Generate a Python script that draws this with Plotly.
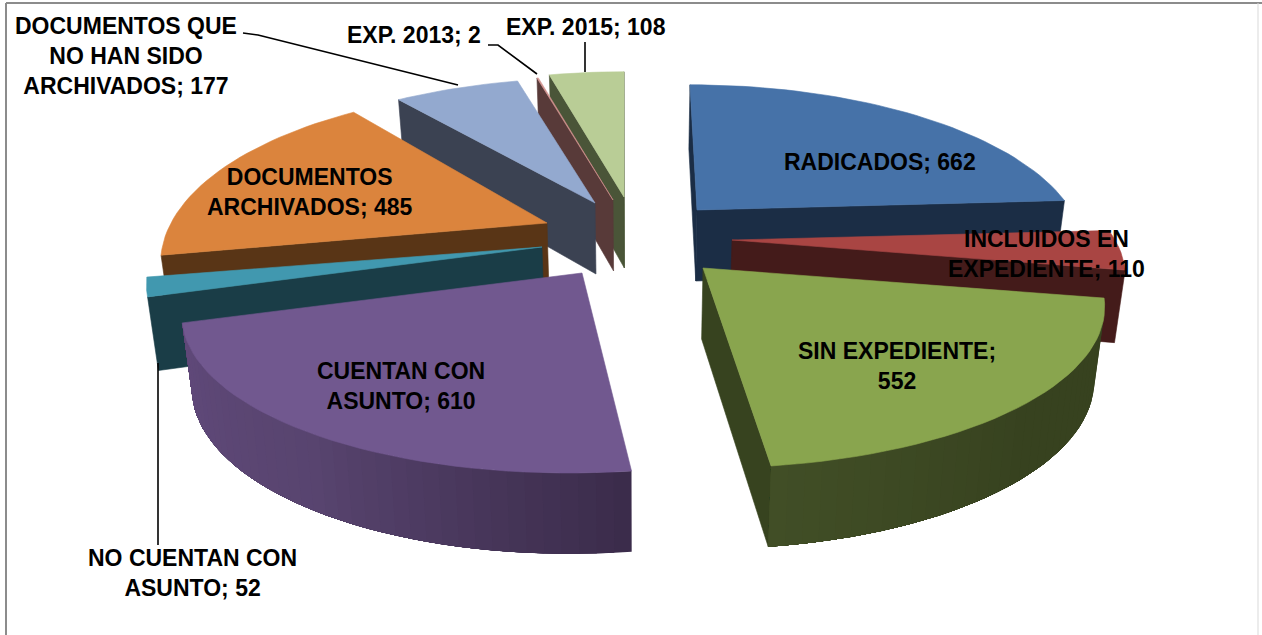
import math
import plotly.graph_objects as go

# ---- data ----
categories = ["RADICADOS", "INCLUIDOS EN<br>EXPEDIENTE", "SIN EXPEDIENTE", "CUENTAN CON<br>ASUNTO",
              "NO CUENTAN CON<br>ASUNTO", "DOCUMENTOS<br>ARCHIVADOS", "DOCUMENTOS QUE<br>NO HAN SIDO<br>ARCHIVADOS",
              "EXP. 2013", "EXP. 2015"]
values = [662, 110, 552, 610, 52, 485, 177, 2, 108]
label_joins = ["; ", "; ", ";<br>", "; ", "; ", "; ", "; ", "; ", "; "]

# ---- styling / placement ----
top_colors = ["#4672A8", "#A94543", "#89A54E", "#71588F", "#4198AF", "#DB843D", "#93A9CF", "#D1928F", "#B9CD96"]
face_colors = ["#1B2D45", "#441B1A", "#37431F", "#3A2B4A", "#1A3D47", "#593516", "#3B4252", "#583A39", "#4A5538"]
rim_start = ["#1B2D45", "#441B1A", "#37421F", "#3B2C4B", "#1A3D47", "#593516", "#3B4252", "#583A39", "#4A5538"]
rim_mid = ["#1B2D45", "#441B1A", "#37421F", "#58446F", "#1A3D47", "#593516", "#3B4252", "#583A39", "#4A5538"]
rim_end = ["#1B2D45", "#441B1A", "#414E26", "#60497A", "#1A3D47", "#593516", "#3B4252", "#583A39", "#4A5538"]
apex_x = [697, 732, 703, 582, 542, 547, 595, 613, 624]
apex_y = [210, 240, 268, 273, 247, 223, 203, 200, 197]
radius_x = [374, 383, 390, 387, 385, 376, 382, 375, 375]
radius_y = [154, 154, 154, 154, 154, 165, 154, 154, 154]
shear = [0.056, 0.0, 0.025, -0.0665, 0.0, 0.0, 0.0, 0.0, 0.0]
draw_order = [8, 7, 6, 5, 4, 3, 0, 1, 2]
label_x = [880, 1046, 897, 401, 192, 310, 126, 414, 586]
label_y = [162, 254, 366, 386, 573, 192, 56, 35, 27]
PERSP, DEPTH, BOTTOM_PULL, VANISH_X = 0.23, 71, 0.022, 640
leaders = [([243, 258, 458], [33, 35, 85]), ([488, 498, 537], [45, 45, 74]),
           ([585, 585], [42, 72]), ([158, 158], [545, 363])]


def hex2rgb(c):
    return tuple(int(c[i:i + 2], 16) for i in (1, 3, 5))


def blend(a, b, t):
    ra, rb = hex2rgb(a), hex2rgb(b)
    return "#%02x%02x%02x" % tuple(round(x + (y - x) * t) for x, y in zip(ra, rb))


def project(i, theta):
    """Slice angle -> top point and bottom point on the tilted disc."""
    u, v = math.sin(theta), math.cos(theta)
    s = 1 / (1 + PERSP * v)
    y = apex_y[i] - radius_y[i] * v * s
    x = apex_x[i] + radius_x[i] * u * s + shear[i] * (y - apex_y[i])
    return (x, y), bottom(x, y, s)


def bottom(x, y, s):
    return (x + (VANISH_X - x) * BOTTOM_PULL, y + DEPTH * s ** 0.5)


def area(poly):
    return sum(poly[k][0] * poly[(k + 1) % len(poly)][1] - poly[(k + 1) % len(poly)][0] * poly[k][1]
               for k in range(len(poly)))


def fill(fig, poly, color, edge=0.6):
    fig.add_trace(go.Scatter(x=[p[0] for p in poly] + [poly[0][0]], y=[p[1] for p in poly] + [poly[0][1]],
                             mode="lines", fill="toself", fillcolor=color,
                             line=dict(color=color, width=edge), hoverinfo="skip", showlegend=False))


total = sum(values)
starts, running = [], 0
for val in values:
    starts.append(running / total * 2 * math.pi)
    running += val

fig = go.Figure()
for i in draw_order:
    t0 = starts[i]
    t1 = t0 + values[i] / total * 2 * math.pi
    n = max(2, int(math.degrees(t1 - t0) / 2))
    thetas = [t0 + (t1 - t0) * k / n for k in range(n + 1)]
    tops, bots = zip(*[project(i, t) for t in thetas])
    a_top = (apex_x[i], apex_y[i])
    a_bot = bottom(a_top[0], a_top[1], 1)
    # cut faces
    for quad in ([a_top, tops[0], bots[0], a_bot], [tops[-1], a_top, a_bot, bots[-1]]):
        if area(quad) < 0:
            fill(fig, quad, face_colors[i])
    # curved rim: each band runs to the end of the visible part and the next one paints over it,
    # so no seams show between bands
    visible = [k for k in range(n) if area([tops[k], tops[k + 1], bots[k + 1], bots[k]]) < 0]
    for k in visible:
        last = visible[-1] + 1
        band_t = list(tops[k:last + 1])
        band_b = list(bots[k:last + 1])
        t = k / max(1, n - 1)
        col = blend(rim_start[i], rim_mid[i], t * 2) if t < .5 else blend(rim_mid[i], rim_end[i], t * 2 - 1)
        fill(fig, band_t + band_b[::-1], col, edge=0)
    fill(fig, [a_top] + list(tops), top_colors[i])

for xs, ys in leaders:
    fig.add_trace(go.Scatter(x=xs, y=ys, mode="lines", line=dict(color="#000000", width=1.6),
                             hoverinfo="skip", showlegend=False))

for i in range(len(values)):
    fig.add_annotation(x=label_x[i], y=label_y[i], text=f"<b>{categories[i]}{label_joins[i]}{values[i]}</b>",
                       showarrow=False, xanchor="center", yanchor="middle",
                       font=dict(family="Liberation Sans", size=23, color="#000000"))

# chart frame
fig.add_shape(type="line", x0=6, x1=6, y0=635, y1=3, line=dict(color="#8C8C8C", width=2))
fig.add_shape(type="line", x0=6, x1=1262, y0=3, y1=3, line=dict(color="#8C8C8C", width=2))
fig.add_shape(type="line", x0=1258, x1=1258, y0=3, y1=635, line=dict(color="#D9D9D9", width=1))

fig.update_layout(width=1262, height=635, autosize=False, margin=dict(l=0, r=0, t=0, b=0),
                  paper_bgcolor="#FFFFFF", plot_bgcolor="#FFFFFF", showlegend=False,
                  xaxis=dict(range=[0, 1262], visible=False, fixedrange=True),
                  yaxis=dict(range=[635, 0], visible=False, fixedrange=True))
fig.write_html("out.html", config={"displayModeBar": False},
               post_script="document.body.style.margin='0';document.body.style.overflow='hidden';")
